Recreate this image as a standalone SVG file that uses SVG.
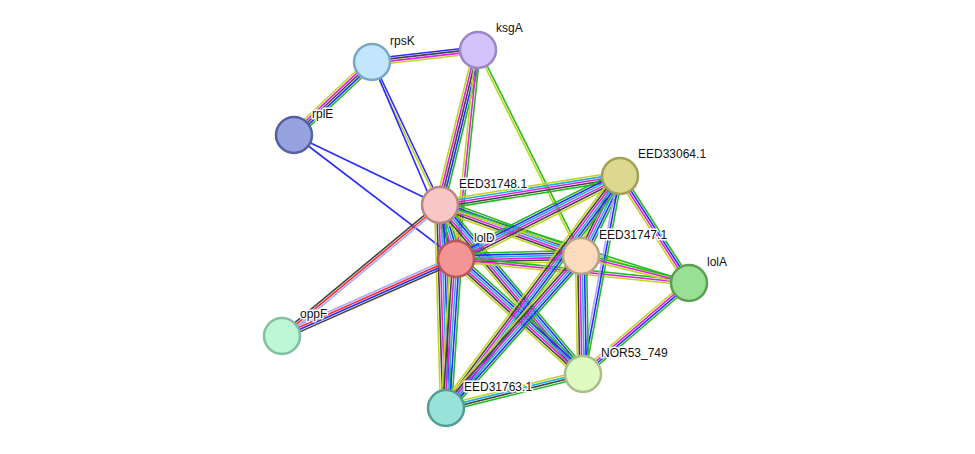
<svg xmlns="http://www.w3.org/2000/svg" xmlns:xlink="http://www.w3.org/1999/xlink" width="975" height="454" viewBox="0 0 975 454">
<style>
.l{stroke-width:1.6;vector-effect:non-scaling-stroke;fill:none}
.g{stroke:#22bb22}.b{stroke:#2a2aff}.c{stroke:#22b0dd}.m{stroke:#e020e0}.k{stroke:#444}.y{stroke:#c0d428}.r{stroke:#ff2a2a}.v{stroke:#a8a8ff}
.n{stroke-width:2.5}
text{font-family:"Liberation Sans",Arial,sans-serif;font-size:12px;fill:#111;stroke:#fff;stroke-width:3;paint-order:stroke;stroke-linejoin:round}
</style>
<defs>
<g id="b1"><line class="l b" x2="1" y1="-3.3" y2="-3.3"/><line class="l k" x2="1" y1="-1.1" y2="-1.1"/><line class="l m" x2="1" y1="1.1" y2="1.1"/><line class="l y" x2="1" y1="3.3" y2="3.3"/></g>
<g id="b2"><line class="l g" x2="1" y1="-4.4" y2="-4.4"/><line class="l b" x2="1" y1="-2.2" y2="-2.2"/><line class="l k" x2="1"/><line class="l m" x2="1" y1="2.2" y2="2.2"/><line class="l y" x2="1" y1="4.4" y2="4.4"/></g>
<g id="b3"><line class="l b" x2="1" y1="-1.1" y2="-1.1"/><line class="l y" x2="1" y1="1.1" y2="1.1"/></g>
<g id="bB"><line class="l b" x2="1"/></g>
<g id="b8"><line class="l g" x2="1" y1="-2.2" y2="-2.2"/><line class="l m" x2="1"/><line class="l y" x2="1" y1="2.2" y2="2.2"/></g>
<g id="bGY"><line class="l g" x2="1" y1="-1.1" y2="-1.1"/><line class="l y" x2="1" y1="1.1" y2="1.1"/></g>
<g id="bF"><line class="l g" x2="1" y1="-5.5" y2="-5.5"/><line class="l b" x2="1" y1="-3.3" y2="-3.3"/><line class="l c" x2="1" y1="-1.1" y2="-1.1"/><line class="l m" x2="1" y1="1.1" y2="1.1"/><line class="l k" x2="1" y1="3.3" y2="3.3"/><line class="l y" x2="1" y1="5.5" y2="5.5"/></g>
<g id="bAO"><line class="l v" x2="1" y1="-2.2" y2="-2.2"/><line class="l r" x2="1"/><line class="l k" x2="1" y1="2.2" y2="2.2"/></g>
<g id="bDO"><line class="l k" x2="1" y1="-3.3" y2="-3.3"/><line class="l b" x2="1" y1="-1.1" y2="-1.1"/><line class="l r" x2="1" y1="1.1" y2="1.1"/><line class="l v" x2="1" y1="3.3" y2="3.3"/></g>
<g id="bCL"><line class="l g" x2="1" y1="-3.3" y2="-3.3"/><line class="l b" x2="1" y1="-1.1" y2="-1.1"/><line class="l m" x2="1" y1="1.1" y2="1.1"/><line class="l y" x2="1" y1="3.3" y2="3.3"/></g>
<g id="bCN"><line class="l g" x2="1" y1="-2.2" y2="-2.2"/><line class="l b" x2="1"/><line class="l v" x2="1" y1="2.2" y2="2.2"/></g>
<g id="bNE"><line class="l g" x2="1" y1="-3.3" y2="-3.3"/><line class="l k" x2="1" y1="-1.1" y2="-1.1"/><line class="l c" x2="1" y1="1.1" y2="1.1"/><line class="l y" x2="1" y1="3.3" y2="3.3"/></g>
<g id="bC5"><line class="l y" x2="1" y1="-4.4" y2="-4.4"/><line class="l c" x2="1" y1="-2.2" y2="-2.2"/><line class="l m" x2="1"/><line class="l k" x2="1" y1="2.2" y2="2.2"/><line class="l g" x2="1" y1="4.4" y2="4.4"/></g>
</defs>
<rect width="975" height="454" fill="#fff"/>
<g id="connectors">
<use xlink:href="#b1" transform="translate(372 62) rotate(-6.46) scale(106.7 1)"/>
<use xlink:href="#b2" transform="translate(372 62) rotate(136.9) scale(106.8 1)"/>
<use xlink:href="#b3" transform="translate(372 62) rotate(64.57) scale(158.3 1)"/>
<use xlink:href="#bB" transform="translate(372 62) rotate(66.9) scale(214.2 1)"/>
<use xlink:href="#bB" transform="translate(294 135) rotate(25.6) scale(161.9 1)"/>
<use xlink:href="#bB" transform="translate(294 135) rotate(37.4) scale(204 1)"/>
<use xlink:href="#b2" transform="translate(478 50) rotate(103.8) scale(159.6 1)"/>
<use xlink:href="#b8" transform="translate(478 50) rotate(96.0) scale(210.2 1)"/>
<use xlink:href="#bGY" transform="translate(478 50) rotate(63.4) scale(230.3 1)"/>
<use xlink:href="#bF" transform="translate(440 205) rotate(73.5) scale(56.3 1)"/>
<use xlink:href="#bC5" transform="translate(440 205) rotate(-9.15) scale(182.3 1)"/>
<use xlink:href="#bF" transform="translate(440 205) rotate(19.9) scale(149.9 1)"/>
<use xlink:href="#bGY" transform="translate(440 205) rotate(17.4) scale(260.9 1)"/>
<use xlink:href="#bF" transform="translate(440 205) rotate(49.8) scale(221.4 1)"/>
<use xlink:href="#bF" transform="translate(440 205) rotate(88.3) scale(203.1 1)"/>
<use xlink:href="#bAO" transform="translate(440 205) rotate(140.3) scale(205.2 1)"/>
<use xlink:href="#bDO" transform="translate(456 259) rotate(156.1) scale(190.3 1)"/>
<use xlink:href="#bF" transform="translate(456 259) rotate(-26.8) scale(183.8 1)"/>
<use xlink:href="#bF" transform="translate(456 259) rotate(-1.37) scale(125 1)"/>
<use xlink:href="#b8" transform="translate(456 259) rotate(5.88) scale(234.2 1)"/>
<use xlink:href="#bF" transform="translate(456 259) rotate(42.2) scale(171.3 1)"/>
<use xlink:href="#bF" transform="translate(456 259) rotate(93.8) scale(149.3 1)"/>
<use xlink:href="#bF" transform="translate(620 176) rotate(116.0) scale(89 1)"/>
<use xlink:href="#bCL" transform="translate(620 176) rotate(57.2) scale(127.3 1)"/>
<use xlink:href="#bCN" transform="translate(620 176) rotate(100.6) scale(201.4 1)"/>
<use xlink:href="#bF" transform="translate(620 176) rotate(126.9) scale(290 1)"/>
<use xlink:href="#b8" transform="translate(581 256) rotate(14.0) scale(111.3 1)"/>
<use xlink:href="#bF" transform="translate(581 256) rotate(89.0) scale(118 1)"/>
<use xlink:href="#bF" transform="translate(581 256) rotate(131.6) scale(203.3 1)"/>
<use xlink:href="#bCL" transform="translate(689 283) rotate(139.4) scale(139.7 1)"/>
<use xlink:href="#bNE" transform="translate(583 374) rotate(166.1) scale(141.2 1)"/>
</g>
<g id="rpsK"><circle class="n" cx="372" cy="62" r="18" fill="#c2e6fb" stroke="#7aa8c4"/><text x="390" y="45">rpsK</text></g>
<g id="ksgA"><circle class="n" cx="478" cy="50" r="18" fill="#d4c3fa" stroke="#9a86c8"/><text x="496" y="32">ksgA</text></g>
<g id="rplE"><circle class="n" cx="294" cy="135" r="18" fill="#97a3e0" stroke="#55609e"/><text x="312" y="118">rplE</text></g>
<g id="EED31748.1"><circle class="n" cx="440" cy="205" r="18" fill="#f7c6c6" stroke="#b88686"/><text x="459" y="188">EED31748.1</text></g>
<g id="lolD"><circle class="n" cx="456" cy="259" r="18" fill="#f59494" stroke="#b85858"/><text x="474" y="242">lolD</text></g>
<g id="EED33064.1"><circle class="n" cx="620" cy="176" r="18" fill="#dcd890" stroke="#a0a058"/><text x="638" y="158">EED33064.1</text></g>
<g id="EED31747.1"><circle class="n" cx="581" cy="256" r="18" fill="#fcdcbd" stroke="#baa28a"/><text x="599" y="239">EED31747.1</text></g>
<g id="lolA"><circle class="n" cx="689" cy="283" r="18" fill="#9ae094" stroke="#5c9e56"/><text x="707" y="266">lolA</text></g>
<g id="oppF"><circle class="n" cx="282" cy="336" r="18" fill="#bdf7d6" stroke="#82c0a0"/><text x="300" y="318">oppF</text></g>
<g id="NOR53_749"><circle class="n" cx="583" cy="374" r="18" fill="#e0fbc2" stroke="#a8c088"/><text x="601" y="357">NOR53_749</text></g>
<g id="EED31763.1"><circle class="n" cx="446" cy="408" r="18" fill="#99e2d9" stroke="#529e96"/><text x="464" y="391">EED31763.1</text></g>
</svg>
